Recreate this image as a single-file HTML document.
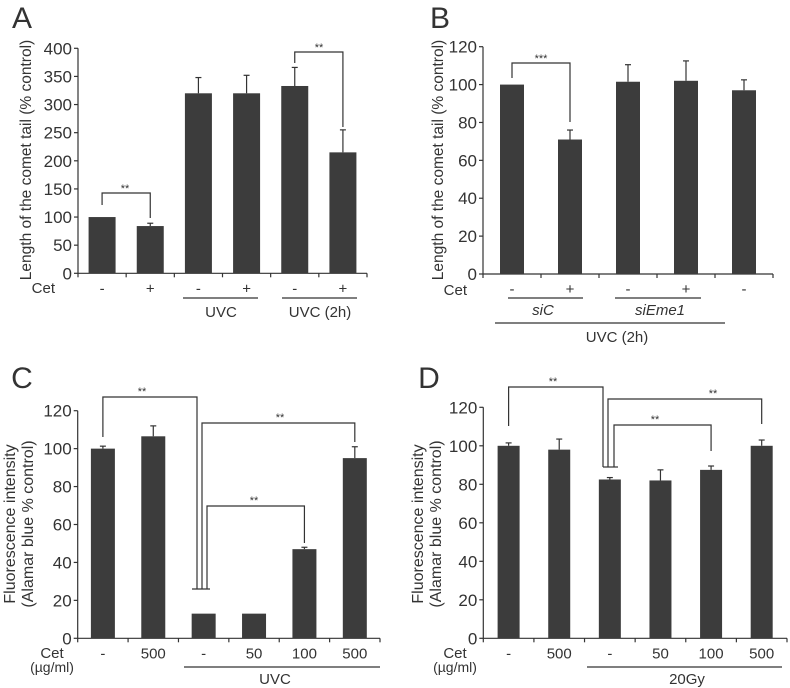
<!DOCTYPE html>
<html><head><meta charset="utf-8"><style>
body{margin:0;background:#fff}
svg{display:block;font-family:"Liberation Sans",Arial,sans-serif}
text{fill:#333}
</style></head><body>
<svg id="s" width="790" height="688" viewBox="0 0 790 688" xmlns="http://www.w3.org/2000/svg"></svg>
<script>
const aVals=[100,84,320,320,333,215];
const aErr=[100,89,348,352,366,255];
const aTicks=[0,50,100,150,200,250,300,350,400];
const aCats=['-','+','-','+','-','+'];
const bVals=[100,71,101.5,102,97];
const bErr=[100,76,110.5,112.5,102.5];
const bTicks=[0,20,40,60,80,100,120];
const bCats=['-','+','-','+','-'];
const cVals=[100,106.5,13,13,47,95];
const cErr=[101.3,112,13,13,48,101];
const cTicks=[0,20,40,60,80,100,120];
const cCats=['-','500','-','50','100','500'];
const dVals=[100,98,82.5,82,87.5,100];
const dErr=[101.5,103.5,83.5,87.5,89.5,103];
const dTicks=[0,20,40,60,80,100,120];
const dCats=['-','500','-','50','100','500'];

const S=document.getElementById('s');
const NS='http://www.w3.org/2000/svg';
function mk(tag,at,txt){const e=document.createElementNS(NS,tag);for(const k in at)e.setAttribute(k,at[k]);if(txt!==undefined)e.textContent=txt;S.appendChild(e);return e;}
function line(x1,y1,x2,y2,name,w){const e=mk('line',{x1,y1,x2,y2,stroke:'#333','stroke-width':w||1.2});

return e;}
function txt(x,y,s,name,size,extra){const e=mk('text',Object.assign({x,y,'font-size':size||14,'text-anchor':'middle'},extra||{}),s);

return e;}
function poly(pts,name){const e=mk('polyline',{points:pts.map(p=>p.join(',')).join(' '),fill:'none',stroke:'#333','stroke-width':1.2});

}

function panel(p){
  const yS=v=>p.y0-(v/p.max)*(p.y0-p.yTop);
  const cw=(p.xEnd-p.ax)/p.vals.length;
  const xC=i=>p.ax+cw*(i+0.5);
  line(p.ax,p.yTop,p.ax,p.y0,p.id+'-y-axis');
  line(p.ax,p.y0,p.xEnd,p.y0,p.id+'-x-axis');
  p.ticks.forEach(t=>{const y=yS(t);line(p.ax-4,y,p.ax,y,p.id+'-y-tick');txt(p.ax-6,y+6,String(t),p.id+'-y-tick-label',17,{'text-anchor':'end'});});
  for(let i=0;i<=p.vals.length;i++)line(p.ax+cw*i,p.y0,p.ax+cw*i,p.y0+4,p.id+'-x-tick');
  p.vals.forEach((v,i)=>{
    const x=xC(i);
    if(p.err[i]>v){line(x,yS(p.err[i]),x,yS(v),p.id+'-error-bar');line(x-3,yS(p.err[i]),x+3,yS(p.err[i]),p.id+'-error-cap');}
    const r=mk('rect',{x:x-p.bw/2,y:yS(v),width:p.bw,height:p.y0-yS(v),fill:'#3c3c3c'});
    
    
    txt(x,p.y0+20,p.cats[i],p.id+'-category-label',15);
  });
  return {xC,yS};
}

// Panel A
let A=panel({id:'a',ax:78,yTop:48.3,y0:273.3,xEnd:367,max:400,bw:27,vals:aVals,err:aErr,ticks:aTicks,cats:aCats});
txt(22,28,'A','panel-a-label',30);
txt(0,0,'Length of the comet tail (% control)','a-y-axis-title',15.5,{transform:'translate(31,160) rotate(-90)'});
txt(55,293,'Cet','a-cet-label',15,{'text-anchor':'end'});
line(183,298,258,298,'a-uvc-underline');txt(221,317,'UVC','a-uvc-label',15);
line(282,298,357,298,'a-uvc2h-underline');txt(320,317,'UVC (2h)','a-uvc2h-label',15);
poly([[A.xC(0),205],[A.xC(0),193],[A.xC(1),193],[A.xC(1),218]],'a-sig-bracket-1');txt(125,192,'**','a-sig-stars-1',11);
poly([[A.xC(4),63],[A.xC(4),52],[A.xC(5),52],[A.xC(5),127]],'a-sig-bracket-2');txt(319,51,'**','a-sig-stars-2',11);

// Panel B
let B=panel({id:'b',ax:483,yTop:46.7,y0:274,xEnd:773,max:120,bw:24,vals:bVals,err:bErr,ticks:bTicks,cats:bCats});
txt(440,28,'B','panel-b-label',30);
txt(0,0,'Length of the comet tail (% control)','b-y-axis-title',15.5,{transform:'translate(443,160) rotate(-90)'});
txt(467,295,'Cet','b-cet-label',15,{'text-anchor':'end'});
line(508,298,583,298,'b-sic-underline');txt(543,315,'siC','b-sic-label',15,{'font-style':'italic'});
line(615,298,701,298,'b-sieme1-underline');txt(660,315,'siEme1','b-sieme1-label',15,{'font-style':'italic'});
line(495,323,725,323,'b-uvc2h-underline');txt(617,342,'UVC (2h)','b-uvc2h-label',15);
poly([[B.xC(0),78],[B.xC(0),63],[B.xC(1),63],[B.xC(1),122]],'b-sig-bracket');txt(541,62,'***','b-sig-stars',11);

// Panel C
let C=panel({id:'c',ax:77.7,yTop:410.7,y0:638.3,xEnd:380,max:120,bw:24,vals:cVals,err:cErr,ticks:cTicks,cats:cCats});
txt(22,388,'C','panel-c-label',30);
txt(0,0,'Fluorescence intensity','c-y-axis-title-1',16,{transform:'translate(15,524) rotate(-90)'});
txt(0,0,'(Alamar blue % control)','c-y-axis-title-2',16,{transform:'translate(33,524) rotate(-90)'});
txt(52,658,'Cet','c-cet-label',15);txt(52,672,'(µg/ml)','c-unit-label',14);
line(184,667,380,667,'c-uvc-underline');txt(275,684,'UVC','c-uvc-label',15);
poly([[C.xC(0),437],[C.xC(0),397],[197,397],[197,589]],'c-sig-bracket-1');txt(142,395,'**','c-sig-stars-1',11);
poly([[202,589],[202,423],[C.xC(5),423],[C.xC(5),442]],'c-sig-bracket-2');txt(280,421,'**','c-sig-stars-2',11);
poly([[207,589],[207,506],[C.xC(4),506],[C.xC(4),543]],'c-sig-bracket-3');txt(254,504,'**','c-sig-stars-3',11);
line(192,589,210,589,'c-bracket-base');

// Panel D
let D=panel({id:'d',ax:483.3,yTop:407.3,y0:638.3,xEnd:787,max:120,bw:22,vals:dVals,err:dErr,ticks:dTicks,cats:dCats});
txt(429,388,'D','panel-d-label',30);
txt(0,0,'Fluorescence intensity','d-y-axis-title-1',16,{transform:'translate(423,524) rotate(-90)'});
txt(0,0,'(Alamar blue % control)','d-y-axis-title-2',16,{transform:'translate(441,524) rotate(-90)'});
txt(455,658,'Cet','d-cet-label',15);txt(455,672,'(µg/ml)','d-unit-label',14);
line(587,667,782,667,'d-20gy-underline');txt(687,684,'20Gy','d-20gy-label',15);
poly([[D.xC(0),426],[D.xC(0),387],[603,387],[603,467]],'d-sig-bracket-1');txt(553,385,'**','d-sig-stars-1',11);
poly([[608,467],[608,399],[D.xC(5),399],[D.xC(5),424]],'d-sig-bracket-2');txt(713,397,'**','d-sig-stars-2',11);
poly([[614,467],[614,425],[D.xC(4),425],[D.xC(4),451]],'d-sig-bracket-3');txt(655,423,'**','d-sig-stars-3',11);
line(603,467,618,467,'d-bracket-base');
</script>
</body></html>
